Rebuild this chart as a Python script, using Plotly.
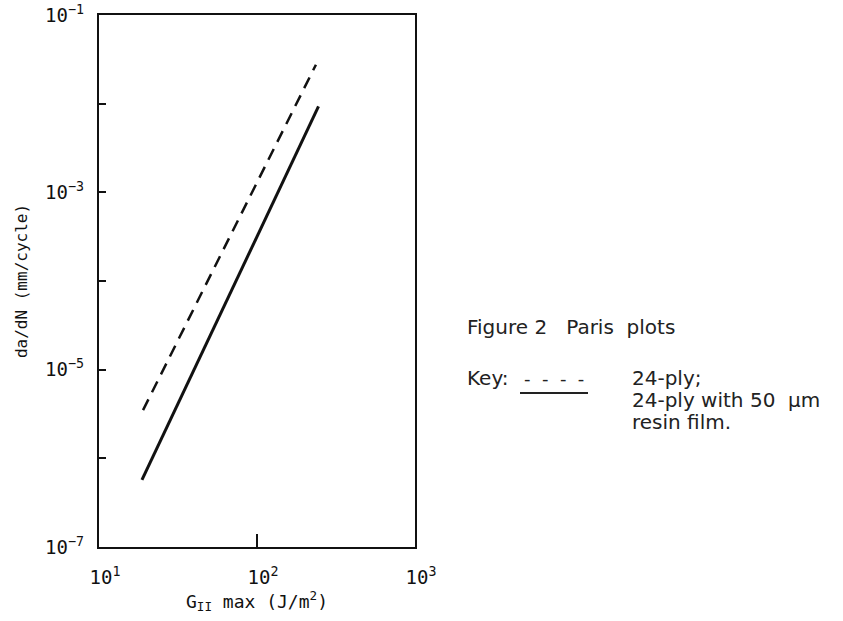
import plotly.graph_objects as go

# Data
g_dashed = [19.0, 236.0]          # G_II max (J/m^2), 24-ply
r_dashed = [3.5e-6, 2.75e-2]      # da/dN (mm/cycle)
g_solid = [18.7, 245.0]           # 24-ply with 50 um resin film
r_solid = [5.7e-7, 9.3e-3]

x_tickvals = [10, 100, 1000]
x_ticktext = ["10<sup>1</sup>", "10<sup>2</sup>", "10<sup>3</sup>"]
y_tickvals = [1e-1, 1e-2, 1e-3, 1e-4, 1e-5, 1e-6, 1e-7]
y_ticktext = ["10<sup>−1</sup>", "", "10<sup>−3</sup>", "", "10<sup>−5</sup>", "", "10<sup>−7</sup>"]

axis_font = "DejaVu Sans Mono, monospace"
text_font = "DejaVu Sans, Arial, sans-serif"

fig = go.Figure()
fig.add_trace(go.Scatter(x=g_dashed, y=r_dashed, mode="lines",
                         line=dict(color="#111", width=2.5, dash="12px,8px"),
                         name="24-ply", showlegend=False))
fig.add_trace(go.Scatter(x=g_solid, y=r_solid, mode="lines",
                         line=dict(color="#111", width=3),
                         name="24-ply with 50 µm resin film", showlegend=False))

L, R, T, B = 99, 415, 15, 547
W, H = 843, 621
pw, ph = R - L, B - T

def px(x):
    return (x - L) / pw

def py(y):
    return (B - y) / ph

fig.update_layout(
    width=W, height=H, autosize=False,
    margin=dict(l=L, r=W - R, t=T, b=H - B, pad=0),
    paper_bgcolor="white", plot_bgcolor="white",
    xaxis=dict(type="log", range=[1, 3], tickvals=x_tickvals, ticktext=x_ticktext,
               ticks="inside", ticklen=13, tickwidth=1.5, tickcolor="#111",
               showline=True, mirror=True, linecolor="#111", linewidth=2.4,
               showgrid=False, zeroline=False, automargin=False,
               ticklabelstandoff=12, ticklabelshift=6,
               tickfont=dict(family=axis_font, size=19, color="#111"),
               title=dict(text="G<sub>II</sub> max (J/m<sup>2</sup>)",
                          font=dict(family=axis_font, size=18, color="#111"), standoff=4)),
    yaxis=dict(type="log", range=[-7, -1], tickvals=y_tickvals, ticktext=y_ticktext,
               ticks="inside", ticklen=7, tickwidth=1.5, tickcolor="#111",
               showline=True, mirror=True, linecolor="#111", linewidth=2.4,
               showgrid=False, zeroline=False, automargin=False,
               ticklabelstandoff=9,
               tickfont=dict(family=axis_font, size=19, color="#111"),
               title=dict(text="da/dN (mm/cycle)",
                          font=dict(family=axis_font, size=16, color="#111"), standoff=13)),
)

ann_font = dict(family=text_font, size=20, color="#222")
nb = "\u00a0"
for txt, x, y in [("Figure" + nb + "2" + nb + nb + nb + "Paris" + nb + nb + "plots", 465, 327),
                  ("Key:", 465, 378),
                  ("24-ply;", 630, 378),
                  ("24-ply" + nb + "with" + nb + "50" + nb + nb + "μm", 630, 400),
                  ("resin" + nb + "film.", 630, 422)]:
    fig.add_annotation(text=txt, x=px(x), y=py(y), xref="paper", yref="paper",
                       xanchor="left", yanchor="middle", showarrow=False, font=ann_font)

fig.add_annotation(text="-" + nb + nb + "-" + nb + nb + "-" + nb + nb + "-",
                   x=px(522), y=py(378), xref="paper", yref="paper",
                   xanchor="left", yanchor="middle", showarrow=False,
                   font=dict(family=text_font, size=18, color="#222"))

fig.add_shape(type="line", xref="paper", yref="paper",
              x0=px(520), x1=px(588), y0=py(393), y1=py(393),
              line=dict(color="#222", width=2))

fig.write_html("out.html", config={"displayModeBar": False},
               post_script="document.body.style.margin='0';")
